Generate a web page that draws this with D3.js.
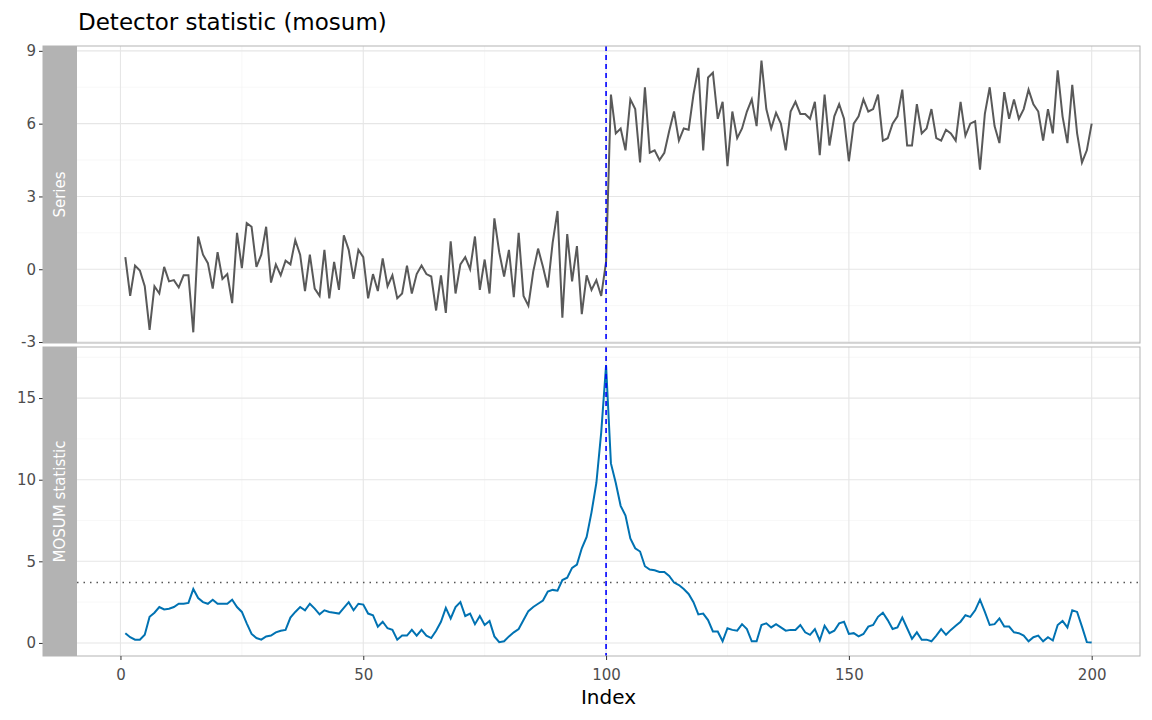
<!DOCTYPE html><html><head><meta charset="utf-8"><script src="https://cdn.jsdelivr.net/npm/d3@7"></script>
<style>body{margin:0;background:#fff}text{font-family:"DejaVu Sans",sans-serif}</style></head><body><svg id="c" width="1152" height="720"></svg>
<script>
const seriesValues=[0.5,-1.1,0.15,-0.05,-0.7,-2.5,-0.7,-1.0,0.1,-0.5,-0.45,-0.75,-0.25,-0.25,-2.6,1.35,0.6,0.25,-0.8,0.7,-0.4,-0.2,-1.4,1.5,0.05,1.9,1.75,0.1,0.6,1.75,-0.55,0.2,-0.25,0.35,0.2,1.2,0.6,-0.9,0.6,-0.8,-1.1,0.8,-1.2,0.3,-0.85,1.4,0.8,-0.4,0.8,0.5,-1.2,-0.2,-0.9,0.45,-0.7,-0.25,-1.2,-1.0,0.15,-1.0,-0.2,0.15,-0.2,-0.3,-1.7,-0.25,-1.8,1.15,-1.0,0.2,0.5,0.0,1.35,-0.85,0.4,-1.0,2.1,0.7,-0.3,0.8,-1.15,1.5,-1.1,-1.5,-0.1,0.85,0.1,-0.75,1.1,2.4,-2.0,1.45,-0.5,0.95,-1.85,-0.25,-0.85,-0.45,-1.1,0.3,
7.2,5.6,5.8,4.9,7.0,6.6,4.4,7.5,4.8,4.9,4.5,4.8,5.7,6.5,5.3,5.8,5.75,7.2,8.3,4.9,7.9,8.1,6.2,6.9,4.25,6.5,5.4,5.8,6.5,7.0,5.9,8.6,6.6,5.8,6.45,6.0,4.9,6.5,6.9,6.4,6.4,6.2,6.9,4.7,7.2,5.1,6.3,6.8,6.2,4.45,6.0,6.3,7.0,6.5,6.6,7.2,5.3,5.4,6.0,6.3,7.4,5.1,5.1,6.8,5.6,5.8,6.6,5.4,5.3,5.75,5.6,5.3,6.9,5.5,6.0,6.1,4.1,6.4,7.5,5.9,5.2,7.3,6.2,7.0,6.2,6.6,7.4,6.8,6.5,5.3,6.6,5.6,8.2,6.3,5.2,7.6,5.6,4.4,4.9,6.0];
const mosumValues=[0.6,0.35,0.2,0.2,0.5,1.6,1.85,2.2,2.05,2.1,2.2,2.4,2.4,2.45,3.3,2.75,2.5,2.4,2.65,2.4,2.4,2.4,2.65,2.2,1.9,1.2,0.55,0.3,0.2,0.4,0.45,0.65,0.75,0.8,1.55,1.9,2.2,2.0,2.4,2.1,1.75,2.0,1.9,1.85,1.8,2.15,2.5,2.0,2.4,2.35,1.8,1.7,1.0,1.3,0.9,0.8,0.2,0.45,0.45,0.8,0.45,0.8,0.45,0.3,0.75,1.3,2.15,1.5,2.2,2.5,1.65,1.8,1.15,1.65,1.1,1.35,0.4,0.05,0.1,0.4,0.65,0.85,1.4,1.95,2.2,2.4,2.6,3.15,3.25,3.2,3.85,4.0,4.6,4.8,5.8,6.5,8.0,9.8,12.9,17.0,
11.0,9.8,8.4,7.8,6.4,5.8,5.6,4.7,4.5,4.45,4.35,4.35,4.1,3.7,3.55,3.3,3.0,2.5,1.75,1.8,1.4,0.7,0.7,0.1,0.9,0.8,0.75,1.15,0.85,0.1,0.1,1.1,1.2,0.95,1.15,0.95,0.75,0.8,0.8,1.1,0.65,0.5,0.85,0.15,1.05,0.6,0.75,1.2,1.3,0.55,0.6,0.4,0.55,1.0,1.1,1.6,1.85,1.4,0.85,0.95,1.55,0.9,0.25,0.65,0.2,0.2,0.1,0.45,0.85,0.5,0.8,1.05,1.3,1.7,1.6,2.0,2.65,1.9,1.1,1.15,1.5,1.0,1.0,0.65,0.6,0.45,0.1,0.35,0.45,0.1,0.35,0.15,1.1,1.35,0.95,2.0,1.9,1.0,0.05,0.03];
const threshold=3.7, changePoint=100;
const xTicks=[0,50,100,150,200], seriesTicks=[-3,0,3,6,9], mosumTicks=[0,5,10,15];
const panelLabels=["Series","MOSUM statistic"];

const svg=d3.select("#c");
const L=77,R=1140,SL=43;
const x=d3.scaleLinear().domain([-8.95,209.95]).range([L,R]);
const panels=[
 {top:46,bot:343,dom:[-3.04,9.2],vals:seriesValues,ticks:seriesTicks,minor:[-1.5,1.5,4.5,7.5],color:"#595959",label:panelLabels[0]},
 {top:347,bot:656,dom:[-0.8,18.13],vals:mosumValues,ticks:mosumTicks,minor:[2.5,7.5,12.5,17.5],color:"#0072B2",label:panelLabels[1]}];
const xMinor=[25,75,125,175];
function styleAxis(ag){
 ag.select(".domain").remove();
 ag.selectAll("line").attr("stroke","#333");
 ag.selectAll("text").style("fill","#4d4d4d").style("font-size","15px").style("font-family","DejaVu Sans");
}
panels.forEach((p,i)=>{
 const y=d3.scaleLinear().domain(p.dom).range([p.bot,p.top]);
 const g=svg.append("g");
 p.minor.filter(v=>v>p.dom[0]&&v<p.dom[1]).forEach(v=>g.append("line").attr("x1",L).attr("x2",R).attr("y1",y(v)).attr("y2",y(v)).attr("stroke","#f3f3f3").attr("stroke-width",0.6));
 xMinor.forEach(v=>g.append("line").attr("x1",x(v)).attr("x2",x(v)).attr("y1",p.top).attr("y2",p.bot).attr("stroke","#f3f3f3").attr("stroke-width",0.6));
 p.ticks.forEach(v=>g.append("line").attr("x1",L).attr("x2",R).attr("y1",y(v)).attr("y2",y(v)).attr("stroke","#e6e6e6").attr("stroke-width",1.1));
 xTicks.forEach(v=>g.append("line").attr("x1",x(v)).attr("x2",x(v)).attr("y1",p.top).attr("y2",p.bot).attr("stroke","#e6e6e6").attr("stroke-width",1.1));
 g.append("rect").attr("x",SL).attr("y",p.top).attr("width",L-SL).attr("height",p.bot-p.top).attr("fill","#b3b3b3");
 g.append("text").attr("transform",`translate(${(SL+L)/2+5},${(p.top+p.bot)/2}) rotate(-90)`).attr("text-anchor","middle").attr("fill","#fff").style("font-size","15px").text(p.label);
 const ag=g.append("g").attr("transform",`translate(${SL},0)`).call(d3.axisLeft(y).tickValues(p.ticks).tickSize(4).tickFormat(d=>String(d)));
 styleAxis(ag);
 if(i===1){
  g.append("line").attr("x1",L).attr("x2",R).attr("y1",y(threshold)).attr("y2",y(threshold)).attr("stroke","#555").attr("stroke-width",1.5).attr("stroke-dasharray","1.5,5");
 }
 g.append("path").datum(p.vals).attr("fill","none").attr("stroke",p.color).attr("stroke-width",2)
  .attr("d",d3.line().x((d,k)=>x(k+1)).y(d=>y(d)));
 g.append("line").attr("x1",x(changePoint)).attr("x2",x(changePoint)).attr("y1",p.top).attr("y2",p.bot).attr("stroke","#0000ff").attr("stroke-width",1.6).attr("stroke-dasharray","5,4");
 g.append("rect").attr("x",SL).attr("y",p.top).attr("width",R-SL).attr("height",p.bot-p.top).attr("fill","none").attr("stroke","#b3b3b3").attr("stroke-width",1);
});
const xa=svg.append("g").attr("transform","translate(0,656)").call(d3.axisBottom(x).tickValues(xTicks).tickSize(4));
styleAxis(xa);
xa.selectAll("text").attr("dy","1.1em");
svg.append("text").attr("x",(L+R)/2).attr("y",704).attr("text-anchor","middle").style("font-size","20px").text("Index");
svg.append("text").attr("x",78).attr("y",30).style("font-size","23px").text("Detector statistic (mosum)");
</script></body></html>
